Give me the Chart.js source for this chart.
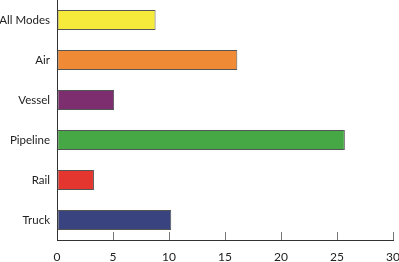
<!DOCTYPE html>
<html>
<head>
<meta charset="utf-8">
<script src="https://cdn.jsdelivr.net/npm/chart.js@4/dist/chart.umd.min.js"></script>
<style>
html,body{margin:0;padding:0;background:#fff;}
#wrap{width:399px;height:262px;position:relative;}
</style>
</head>
<body>
<div id="wrap"><canvas id="c" width="399" height="262"></canvas></div>
<script>
const categories = ["All Modes", "Air", "Vessel", "Pipeline", "Rail", "Truck"];
const values = [8.8, 16.1, 5.1, 25.7, 3.3, 10.2];
const barColors = ["#F6EB3B", "#F08A35", "#7D2E6E", "#46A844", "#E5352F", "#38437F"];
const xTicks = [0, 5, 10, 15, 20, 25, 30];

new Chart(document.getElementById('c'), {
  type: 'bar',
  data: {
    labels: categories,
    datasets: [{
      data: values,
      backgroundColor: barColors,
      borderColor: '#555555',
      borderWidth: 1,
      borderSkipped: false,
      categoryPercentage: 1,
      barPercentage: 0.5
    }]
  },
  options: {
    indexAxis: 'y',
    responsive: false,
    animation: false,
    devicePixelRatio: 1,
    layout: { padding: { top: 0, right: 6, bottom: 0, left: 0 } },
    plugins: { legend: { display: false }, tooltip: { enabled: false } },
    scales: {
      x: {
        min: 0, max: 30,
        afterBuildTicks: s => { s.ticks = xTicks.map(v => ({ value: v })); },
        grid: { drawOnChartArea: false, drawTicks: true, tickLength: -8, color: '#777777', lineWidth: 1 },
        border: { display: true, color: '#333333', width: 1 },
        ticks: { padding: 18, color: '#222222', font: { family: 'Lato', size: 12 } },
        afterFit: s => { s.height = 22; s.paddingLeft = 0; s.paddingRight = 0; s.paddingTop = 0; s.paddingBottom = 0; }
      },
      y: {
        grid: { display: false, drawTicks: false },
        border: { display: true, color: '#333333', width: 1 },
        ticks: { padding: 7, color: '#222222', font: { family: 'Lato', size: 11.5 } },
        afterFit: s => { s.width = 57; s.paddingLeft = 0; s.paddingRight = 0; s.paddingTop = 0; s.paddingBottom = 0; }
      }
    }
  }
});
</script>
</body>
</html>
